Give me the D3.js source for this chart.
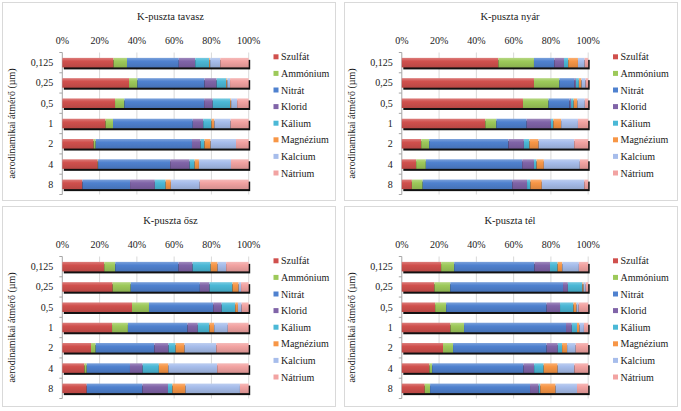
<!DOCTYPE html>
<html><head><meta charset="utf-8">
<script src="https://cdn.jsdelivr.net/npm/d3@7/dist/d3.min.js"></script>
<style>
body{margin:0;background:#fff}
svg{display:block}
</style>
</head><body>
<svg id="c" width="681" height="411"></svg>
<script>
const sizes = ["0,125","0,25","0,5","1","2","4","8"];
const ions = ["Szulfát","Ammónium","Nitrát","Klorid","Kálium","Magnézium","Kalcium","Nátrium"];
const colors = ["#D0504D","#9DC95A","#4F81CF","#8064A8","#4BB8D6","#F79646","#A7BDEB","#F2A3A2"];
const tickLabels = ["0%","20%","40%","60%","80%","100%"];
const titles = ["K-puszta tavasz","K-puszta nyár","K-puszta ősz","K-puszta tél"];
const axisTitle = "aerodinamikai átmérő (µm)";

// rows = sizes (0,125 ... 8), columns = ions
const tavasz = [
  [27.4,7.2,27.7,8.8,7.5,0.5,5.4,15.2],
  [35.8,4.5,36.0,6.5,5.2,0.5,1.5,10.0],
  [28.3,5.0,42.8,4.6,9.4,0.5,3.2,6.2],
  [23.2,4.0,42.8,5.6,4.4,1.6,8.7,9.7],
  [16.8,1.1,51.6,4.6,2.1,3.3,13.6,6.8],
  [19.0,0.2,38.7,10.4,2.7,2.3,17.2,9.5],
  [10.8,0.0,25.6,13.3,5.8,2.8,15.5,26.3]
];
const nyar = [
  [51.8,19.1,10.9,5.2,2.3,5.2,3.6,1.9],
  [70.9,13.6,8.0,0.9,1.6,1.4,2.2,1.4],
  [65.0,13.7,11.3,0.8,1.4,2.0,4.0,1.8],
  [44.8,5.9,16.3,13.0,1.3,4.2,9.0,5.5],
  [10.4,4.3,42.5,8.3,3.0,4.9,19.1,7.5],
  [7.7,5.2,51.7,6.3,1.4,3.9,19.3,4.5],
  [5.4,5.8,48.1,7.9,1.8,6.1,22.8,2.1]
];
const osz = [
  [22.5,5.9,34.0,7.5,9.7,3.7,4.6,12.1],
  [27.0,9.7,37.1,5.2,12.3,3.3,1.3,4.1],
  [37.4,9.1,34.5,4.5,7.3,1.4,2.0,3.8],
  [26.7,8.5,32.0,5.5,6.2,2.6,7.3,11.2],
  [15.4,2.5,31.5,7.6,3.8,4.8,17.0,17.4],
  [11.9,1.2,23.2,6.8,8.7,5.1,26.2,16.9],
  [13.1,0.0,29.9,13.7,2.4,7.0,29.2,4.7]
];
const tel = [
  [21.1,7.0,43.1,8.3,4.1,2.5,8.9,5.0],
  [17.5,8.5,60.5,2.6,7.8,0.6,1.2,1.3],
  [17.9,5.9,53.9,7.2,7.2,1.6,1.2,5.1],
  [26.1,7.3,54.7,3.1,2.8,1.3,2.4,2.3],
  [22.1,5.4,50.2,6.0,2.3,2.7,4.6,6.7],
  [14.8,1.5,49.0,5.7,5.1,7.5,9.0,7.4],
  [12.3,2.9,53.6,4.6,0.9,8.2,11.5,6.0]
];
const seasons = [tavasz, nyar, osz, tel];

const FONT = "'Liberation Serif', 'DejaVu Serif', serif";
const svg = d3.select("#c").attr("font-family", FONT);
const defs = svg.append("defs");
colors.forEach((c,i)=>{
  const g = defs.append("linearGradient").attr("id","g"+i).attr("x1",0).attr("y1",0).attr("x2",0).attr("y2",1);
  const col = d3.color(c);
  g.append("stop").attr("offset","0%").attr("stop-color", d3.interpolateRgb(c,"#fff")(0.25));
  g.append("stop").attr("offset","35%").attr("stop-color", c);
  g.append("stop").attr("offset","100%").attr("stop-color", col.darker(0.35).formatHex());
});

const layout = [
  {ox:0, oy:0, bx:2.5, by:2.5, bw:333, bh:198},
  {ox:339.5, oy:0, bx:344.5, by:2.5, bw:333, bh:198},
  {ox:0, oy:204, bx:2.5, by:206.5, bw:333, bh:200},
  {ox:339.5, oy:204, bx:344.5, by:206.5, bw:333, bh:200}
];

const x = d3.scaleLinear().domain([0,1]).range([62.3, 248.7]);
const y = d3.scaleBand().domain(sizes).range([52.5,194.5]).paddingInner(0.53).paddingOuter(0.265);
const stack = d3.stack().keys(d3.range(ions.length)).offset(d3.stackOffsetExpand);

seasons.forEach((data, p)=>{
  const L = layout[p];
  svg.append("rect").attr("x",L.bx).attr("y",L.by).attr("width",L.bw).attr("height",L.bh)
    .attr("fill","#fff").attr("stroke","#d9d9d9").attr("stroke-width",1);
  const g = svg.append("g").attr("transform",`translate(${L.ox},${L.oy})`)
    .attr("font-family", FONT).attr("fill","#1a1a1a");

  g.append("text").attr("x",(x(0)+x(1))/2+15).attr("y",20).attr("text-anchor","middle")
    .attr("font-size",10.5).text(titles[p]);

  const ticks = d3.range(0,1.0001,0.2);
  g.selectAll(".grid").data(ticks).join("line")
    .attr("x1",d=>x(d)).attr("x2",d=>x(d)).attr("y1",y.range()[0]).attr("y2",y.range()[1])
    .attr("stroke",d=>d===0?"#a6a6a6":"#d9d9d9").attr("stroke-width",1);
  g.selectAll(".tl").data(ticks).join("text")
    .attr("x",d=>x(d)).attr("y",43.5).attr("text-anchor","middle").attr("font-size",10)
    .text((d,i)=>tickLabels[i]);
  const bounds = sizes.map(s=>y(s)-y.step()*y.paddingInner()/2);
  bounds.push(y(sizes[sizes.length-1])+y.bandwidth()+y.step()*y.paddingInner()/2);
  g.selectAll(".yt").data(bounds).join("line")
    .attr("x1",x(0)-3).attr("x2",x(0)).attr("y1",d=>d).attr("y2",d=>d)
    .attr("stroke","#a6a6a6");
  g.selectAll(".yl").data(sizes).join("text")
    .attr("x",x(0)-9).attr("y",d=>y(d)+y.bandwidth()/2+3.5).attr("text-anchor","end")
    .attr("font-size",10).text(d=>d);
  g.append("text").attr("transform",`translate(15,${(y.range()[0]+y.range()[1])/2}) rotate(-90)`)
    .attr("text-anchor","middle").attr("font-size",10).text(axisTitle);

  g.selectAll(".sh").data(sizes).join("rect")
    .attr("x",x(0)+1.5).attr("y",d=>y(d)+2).attr("width",x(1)-x(0)).attr("height",y.bandwidth())
    .attr("fill","#111");
  const series = stack(data);
  series.forEach((s,k)=>{
    g.selectAll(".b"+k).data(s).join("rect")
      .attr("x",d=>x(d[0])).attr("width",d=>Math.max(0,x(d[1])-x(d[0])))
      .attr("y",(d,i)=>y(sizes[i])).attr("height",y.bandwidth())
      .attr("fill",`url(#g${k})`);
  });

  const lg = g.append("g");
  ions.forEach((name,k)=>{
    const cy = 56.8 + k*16.6;
    lg.append("rect").attr("x",273.5).attr("y",cy-2.5).attr("width",5).attr("height",5).attr("fill",colors[k]);
    lg.append("text").attr("x",281).attr("y",cy+3.5).attr("font-size",10).text(name);
  });
});
</script>
</body></html>
